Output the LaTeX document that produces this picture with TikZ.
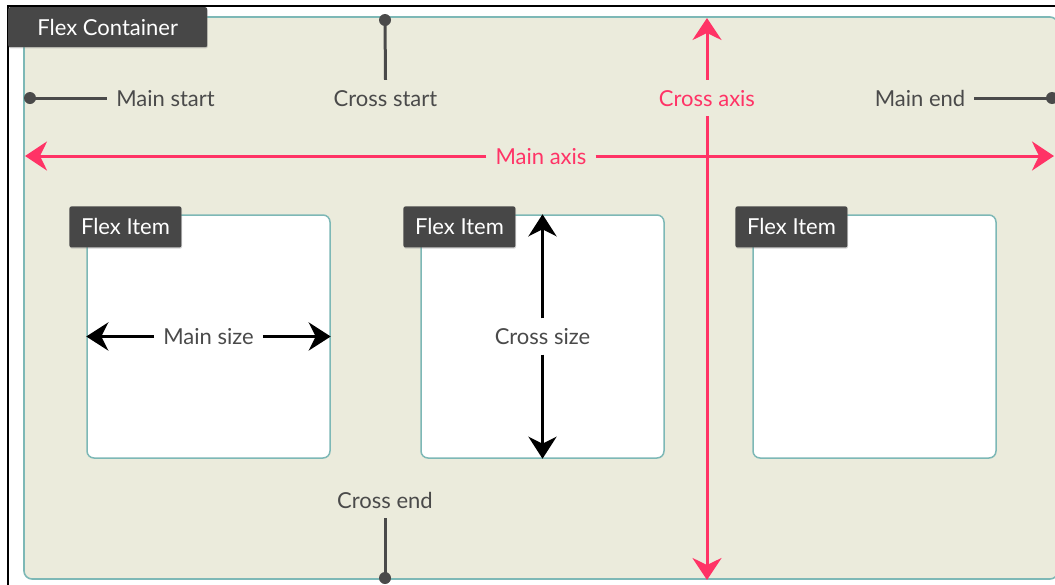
\documentclass[tikz,border=0pt]{standalone}
\usepackage{fontspec}
\setmainfont{Lato}
\usepackage{xcolor}
\usepackage{tikz}
\usetikzlibrary{arrows.meta,shadows}
\definecolor{FXBeige}{HTML}{EBEBDC}
\definecolor{FXTeal}{HTML}{7DB8B6}
\definecolor{FXPink}{HTML}{FF3366}
\definecolor{FXTab}{HTML}{474747}
\definecolor{FXText}{HTML}{4A4A4A}

\tikzset{
  fxlabel/.style={text=FXText,font=\fontsize{22}{26}\selectfont,text height=16pt,text depth=0pt,inner xsep=9pt,inner ysep=10pt},
  fxaxislabel/.style={fxlabel,text=FXPink},
  fxtab/.style={fill=FXTab,text=white,font=\fontsize{22}{26}\selectfont,rounded corners=2pt,anchor=north west,inner sep=0pt,drop shadow={shadow xshift=0.6pt,shadow yshift=-1.2pt,opacity=0.35}},
  fxitem/.style={draw=FXTeal,fill=white,line width=1.5pt,rounded corners=7pt,minimum size=243pt,inner sep=0pt},
  fxaxis/.style={FXPink,line width=3pt,-{Stealth[length=22pt,width=29pt,inset=7pt]}},
  fxsize/.style={black,line width=3.8pt,-{Stealth[length=22pt,width=28pt,inset=7pt]}},
  fxpin/.style={FXText,line width=3pt},
}

\begin{document}
\begin{tikzpicture}[x=1pt,y=-1pt]
\path[use as bounding box] (0,0) rectangle (1055,584);
% outer frame and container
\draw[black,line width=1.6pt] (8,6) rectangle (1090,610);
\draw[FXTeal,fill=FXBeige,line width=1.6pt,rounded corners=8pt] (24,17) rectangle (1058,579);
\node[fxtab,minimum width=199pt,minimum height=40pt] (tabCont) at (8,7) {Flex Container};
% flex items
\node[fxitem] (item1) at (208.5,336.5) {};
\node[fxitem] (item2) at (542.5,336.5) {};
\node[fxitem] (item3) at (874.5,336.5) {};
\foreach \i in {1,2,3}
  \node[fxtab,minimum width=112pt,minimum height=41pt] (tab\i) at ([xshift=-17pt,yshift=8pt]item\i.north west) {Flex Item};
% start / end markers
\coordinate (dotMainStart) at (30,98);
\coordinate (dotMainEnd) at (1052,98);
\coordinate (dotCrossStart) at (385,20);
\coordinate (dotCrossEnd) at (385,578);
\node[fxlabel] (lblMainStart) at (165.5,98) {Main start};
\node[fxlabel] (lblCrossStart) at (385.5,98) {Cross start};
\node[fxlabel] (lblMainEnd) at (920,98) {Main end};
\node[fxlabel] (lblCrossEnd) at (385,500) {Cross end};
\draw[fxpin] (dotMainStart) -- (lblMainStart.west);
\draw[fxpin] (lblMainEnd.east) -- (dotMainEnd);
\draw[fxpin] (dotCrossStart) -- (lblCrossStart.north);
\draw[fxpin] (lblCrossEnd.south) -- (dotCrossEnd);
\foreach \d in {dotMainStart,dotMainEnd,dotCrossStart,dotCrossEnd}
  \fill[FXText] (\d) circle[radius=6pt];
% axes
\coordinate (axMainL) at (25,156);
\coordinate (axMainR) at (1054,156);
\coordinate (axCrossT) at (707,18);
\coordinate (axCrossB) at (707,580);
\node[fxaxislabel] (lblMainAxis) at (541,156) {Main axis};
\node[fxaxislabel] (lblCrossAxis) at (707,98) {Cross axis};
\draw[fxaxis] (lblMainAxis.west) -- (axMainL);
\draw[fxaxis] (lblMainAxis.east) -- (axMainR);
\draw[fxaxis] (lblCrossAxis.north) -- (axCrossT);
\draw[fxaxis] (lblCrossAxis.south) -- (axCrossB);
% sizes
\node[fxlabel,fill=white] (lblMainSize) at (item1.center) {Main size};
\node[fxlabel,fill=white] (lblCrossSize) at (item2.center) {Cross size};
\draw[fxsize] (lblMainSize.west) -- (item1.west);
\draw[fxsize] (lblMainSize.east) -- (item1.east);
\draw[fxsize] (lblCrossSize.north) -- (item2.north);
\draw[fxsize] (lblCrossSize.south) -- (item2.south);
\end{tikzpicture}
\end{document}
